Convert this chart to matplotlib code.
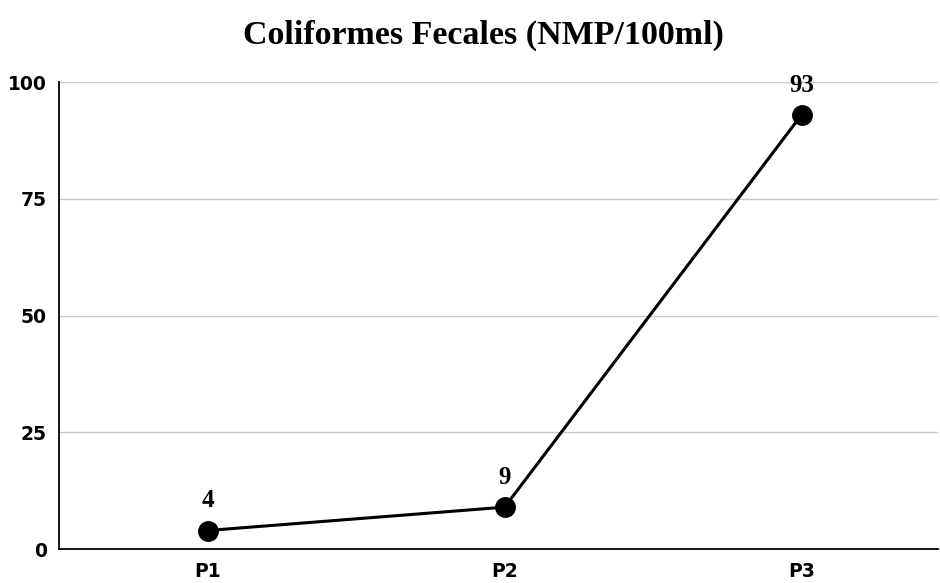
import matplotlib
matplotlib.use("Agg")
import matplotlib.pyplot as plt

## Data
puntos = ["P1", "P2", "P3"]
coliformes = [4, 9, 93]
y_ticks = [0, 25, 50, 75, 100]

fig = plt.figure(figsize=(9.4, 5.83), dpi=100)
ax = fig.add_axes([0.063, 0.058, 0.935, 0.801])

x = list(range(len(puntos)))
ax.plot(x, coliformes, color="black", linewidth=2.2, marker="o",
        markersize=14, zorder=3, clip_on=False)

## Value labels above points
for xi, v in zip(x, coliformes):
    ax.annotate(str(v), (xi, v), xytext=(0, 13), textcoords="offset points",
                ha="center", va="bottom", fontsize=18, fontweight="bold",
                family="Liberation Serif")

ax.set_ylim(0, 100)
ax.set_xlim(-0.5, 2.46)
ax.set_yticks(y_ticks)
ax.set_xticks(x)
ax.set_xticklabels(puntos)
ax.grid(axis="y", color="#c8c8c8", linewidth=1)
ax.set_axisbelow(True)

for s in ["top", "right"]:
    ax.spines[s].set_visible(False)
ax.spines["left"].set_linewidth(1.3)
ax.spines["bottom"].set_linewidth(1.3)
ax.tick_params(length=0, pad=9)
for lab in ax.get_xticklabels() + ax.get_yticklabels():
    lab.set_fontweight("heavy")
    lab.set_fontsize(13.5)
    lab.set_family("DejaVu Sans")

fig.text(0.514, 0.94, "Coliformes Fecales (NMP/100ml)", ha="center", va="center",
         fontsize=24.5, fontweight="bold", family="Liberation Serif")

fig.savefig("out.png", dpi=100)
